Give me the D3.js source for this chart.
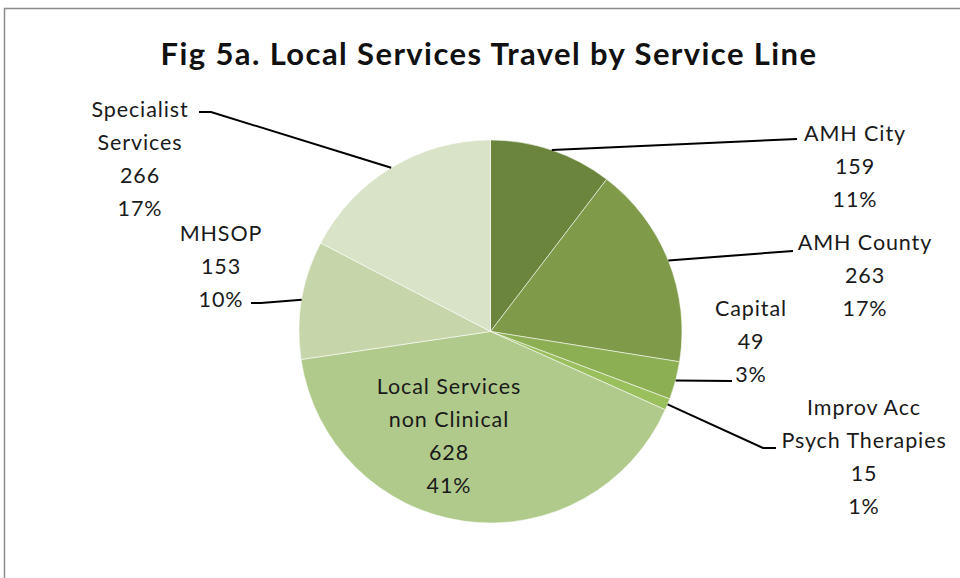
<!DOCTYPE html>
<html>
<head>
<meta charset="utf-8">
<script src="https://cdn.jsdelivr.net/npm/d3@7"></script>
<style>
  body { margin: 0; background: #fff; }
  svg { display: block; font-family: Lato, "Open Sans", sans-serif; }
</style>
</head>
<body>
<div id="chart"></div>
<script>
// data
const serviceLines = ["AMH City", "AMH County", "Capital", "Improv Acc Psych Therapies",
  "Local Services non Clinical", "MHSOP", "Specialist Services"];
const journeys = [159, 263, 49, 15, 628, 153, 266];
const percentLabels = ["11%", "17%", "3%", "1%", "41%", "10%", "17%"];
// how each category name is wrapped in the label
const nameLines = [["AMH City"], ["AMH County"], ["Capital"], ["Improv Acc", "Psych Therapies"],
  ["Local Services", "non Clinical"], ["MHSOP"], ["Specialist", "Services"]];

const sliceColors = ["#6b853d", "#7f9b4a", "#8daf53", "#9abf5d", "#b0ca8c", "#c6d6aa", "#d9e3c8"];

// label layout: centre x, first line y, and where the leader meets the text
const labelLayout = [
  {x: 855, y: 133, lx: 797, ly: 139},
  {x: 865, y: 242, lx: 793, ly: 251},
  {x: 751, y: 308, lx: 732, ly: 381, elbow: 0},
  {x: 864, y: 407, lx: 776, ly: 448, elbow: 13},
  {x: 449, y: 386, inside: true},
  {x: 221, y: 233, lx: 251, ly: 303, elbow: 10},
  {x: 140, y: 109, lx: 199, ly: 112, elbow: 12}
];

const width = 960, height = 578;
const cx = 490.5, cy = 331.5, radius = 191.5;
const lineH = 33;

const svg = d3.select("#chart").append("svg")
  .attr("width", width)
  .attr("height", height);

// chart frame
svg.append("path")
  .attr("d", `M4.5,${height + 2}V8.5H${width + 2}`)
  .attr("fill", "none")
  .attr("stroke", "#8c8c8c")
  .attr("stroke-width", 1.5);

svg.append("text")
  .attr("x", 489)
  .attr("y", 65)
  .attr("text-anchor", "middle")
  .attr("font-size", 31)
  .attr("font-weight", "bold")
  .attr("letter-spacing", 1.4)
  .attr("fill", "#111")
  .text("Fig 5a. Local Services Travel by Service Line");

const pie = d3.pie().sort(null).value(d => d)(journeys);
const arc = d3.arc().innerRadius(0).outerRadius(radius);

const g = svg.append("g").attr("transform", `translate(${cx},${cy})`);

g.selectAll("path.slice")
  .data(pie)
  .enter().append("path")
  .attr("class", "slice")
  .attr("d", arc)
  .attr("fill", (d, i) => sliceColors[i])
  .attr("stroke", "rgba(255,255,255,0.55)")
  .attr("stroke-width", 1);

// leader lines from the outer edge to the label
pie.forEach((d, i) => {
  const lay = labelLayout[i];
  if (lay.inside) return;
  const mid = (d.startAngle + d.endAngle) / 2;
  const px = cx + radius * Math.sin(mid);
  const py = cy - radius * Math.cos(mid);
  const pts = [[px, py]];
  const dir = lay.lx > px ? 1 : -1;
  if (lay.elbow) pts.push([lay.lx - dir * lay.elbow, lay.ly]);
  pts.push([lay.lx, lay.ly]);
  svg.append("path")
    .attr("d", d3.line()(pts))
    .attr("fill", "none")
    .attr("stroke", "#000")
    .attr("stroke-width", 2);
});

// labels
labelLayout.forEach((lay, i) => {
  const lines = nameLines[i].concat([String(journeys[i]), percentLabels[i]]);
  const t = svg.append("text")
    .attr("text-anchor", "middle")
    .attr("font-size", 21.5)
    .attr("letter-spacing", 0.9)
    .attr("fill", "#1a1a1a");
  lines.forEach((s, k) => {
    t.append("tspan")
      .attr("x", lay.x)
      .attr("y", lay.y + k * lineH)
      .attr("dy", "0.35em")
      .text(s);
  });
});
</script>
</body>
</html>
